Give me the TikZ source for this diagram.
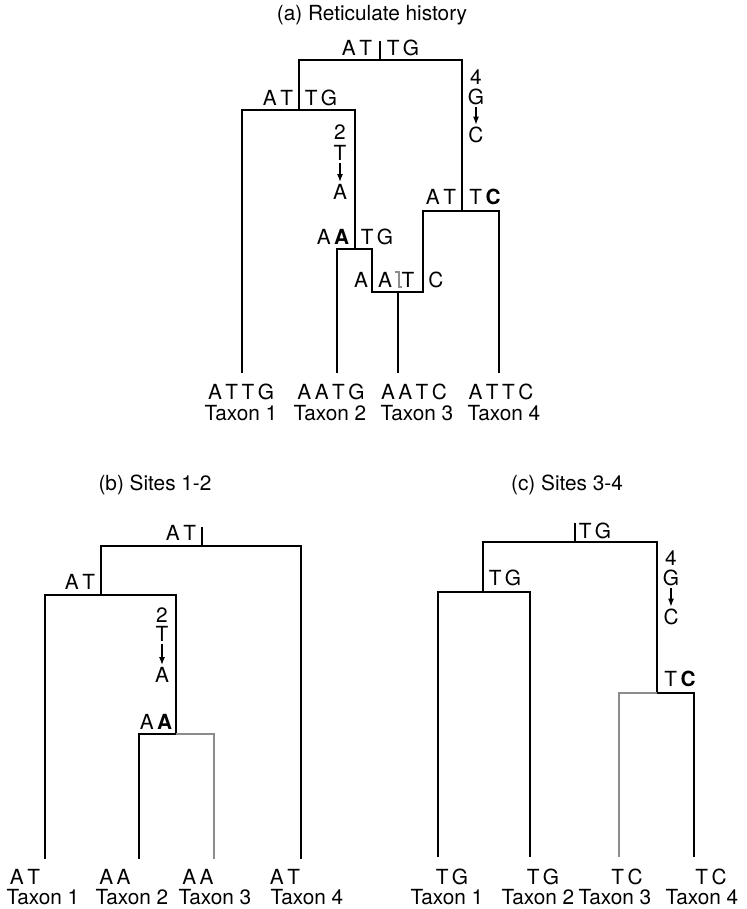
\documentclass[tikz,border=0pt]{standalone}
\usepackage{fontspec}
\setmainfont{TeX Gyre Heros}
\usetikzlibrary{arrows.meta}
\def\normaledge{1.1}
\definecolor{edgeblack}{rgb}{0,0,0}
\definecolor{edgegray}{rgb}{0.55,0.55,0.55}

\begin{document}
\begin{tikzpicture}[x = 0.5pt, y = -0.5pt, scale = 1,
    every node/.style={inner sep=1pt, font=\fontsize{10.4}{12.5}\selectfont},
    treeedge/.style={line width=\normaledge, color=edgeblack},
    grayedge/.style={line width=\normaledge, color=edgegray},
    mutarrow/.style={line width=0.6, -{Latex[length=4pt,width=3pt]}}]
            \useasboundingbox (0,0) rectangle (747,909);

            % (a) reticulate history
            \node (ta) at (372,15){(a) Reticulate history};

            \node (r') at (380,41){};
            \node (r) at (380,60){};
            \node (u) at (299,60){};
            \node (v) at (462,60){};
            \node (u') at (299,110){};
            \node (v') at (462,211){};

            \node (a1) at (242,110){};
            \node (a2) at (355,110){};
            \node (w) at (355,249){};
            \node (w1) at (337,249){};
            \node (w2) at (372,249){};
            \node (h1) at (372,292){};
            \node (h) at (398,292){};
            \node (h2) at (423,292){};
            \node (b1) at (423,211){};
            \node (b2) at (499,211){};

            \node (x1) at (242,373){};
            \node (x2) at (337,373){};
            \node (x3) at (398,373){};
            \node (x4) at (499,373){};

            \draw [treeedge] (r'.center) -- (r.center);
            \draw [treeedge] (u'.center) -- (u.center) -- (v.center) -- (v'.center);
            \draw [treeedge] (x1.center) -- (a1.center) -- (a2.center) -- (w.center);
            \draw [treeedge] (x2.center) -- (w1.center) -- (w2.center) -- (h1.center) -- (h2.center) -- (b1.center) -- (b2.center) -- (x4.center);
            \draw [treeedge] (h.center) -- (x3.center);

            \node (sr1) at (357,48){A\,T};
            \node (sr2) at (403,48){T\,G};
            \node (su1) at (278,98){A\,T};
            \node (su2) at (321,98){T\,G};
            \node (sw1) at (333,237){A\,\textbf{A}};
            \node (sw2) at (377,237){T\,G};
            \node (sb1) at (441,197){A\,T};
            \node (sb2) at (485,197){T\,\textbf{C}};
            \node (sh1) at (361,280){A};
            \node (sh2) at (385,280){A};
            \node (sh3) at (408,280){T};
            \node (sh4) at (436,280){C};
            \draw [line width=0.7, color=edgegray] (395,272) -- (399,272) -- (399,287) -- (402,287);

            \node (k2) at (340,132){2};
            \node (k2a) at (340,153){T};
            \node (k2b) at (340,192){A};
            \draw [mutarrow] (k2a) -- (k2b);
            \node (k4) at (476,77){4};
            \node (k4a) at (476,97){G};
            \node (k4b) at (476,135){C};
            \draw [mutarrow] (k4a) -- (k4b);

            \node (sx1) at (241,392){A\,T\,T\,G};
            \node (sx2) at (331,392){A\,A\,T\,G};
            \node (sx3) at (414,392){A\,A\,T\,C};
            \node (sx4) at (501,392){A\,T\,T\,C};
            \node (tx1) at (241,413){Taxon 1};
            \node (tx2) at (330,413){Taxon 2};
            \node (tx3) at (417,413){Taxon 3};
            \node (tx4) at (504,413){Taxon 4};

            % (b) sites 1-2
            \node (tb) at (155,485){(b) Sites 1-2};

            \node (q') at (202,527){};
            \node (q) at (202,546){};
            \node (p) at (101,546){};
            \node (p2) at (301,546){};
            \node (p') at (101,595){};
            \node (c1) at (45,595){};
            \node (c2) at (176,595){};
            \node (e) at (176,734){};
            \node (e1) at (139,734){};
            \node (e2) at (214,734){};

            \node (y1) at (45,859){};
            \node (y2) at (139,859){};
            \node (y3) at (214,859){};
            \node (y4) at (301,859){};

            \draw [treeedge] (q'.center) -- (q.center);
            \draw [treeedge] (p'.center) -- (p.center) -- (p2.center) -- (y4.center);
            \draw [treeedge] (y1.center) -- (c1.center) -- (c2.center) -- (e.center) -- (e1.center) -- (y2.center);
            \draw [grayedge] (e.center) -- (e2.center) -- (y3.center);

            \node (sq) at (181,533){A\,T};
            \node (sp) at (80,582){A\,T};
            \node (se) at (156,722){A\,\textbf{A}};

            \node (j2) at (162,615){2};
            \node (j2a) at (162,634){T};
            \node (j2b) at (162,675){A};
            \draw [mutarrow] (j2a) -- (j2b);

            \node (sy1) at (25,877){A\,T};
            \node (sy2) at (115,877){A\,A};
            \node (sy3) at (198,877){A\,A};
            \node (sy4) at (285,877){A\,T};
            \node (ty1) at (43,897){Taxon 1};
            \node (ty2) at (132,897){Taxon 2};
            \node (ty3) at (215,897){Taxon 3};
            \node (ty4) at (307,897){Taxon 4};

            % (c) sites 3-4
            \node (tc) at (567,485){(c) Sites 3-4};

            \node (n') at (575,523){};
            \node (n) at (575,542){};
            \node (m) at (483,542){};
            \node (m2) at (657,542){};
            \node (m') at (483,592){};
            \node (d1) at (438,592){};
            \node (d2) at (530,592){};
            \node (g) at (657,693){};
            \node (g1) at (619,693){};
            \node (g2) at (694,693){};

            \node (z1) at (438,857){};
            \node (z2) at (530,857){};
            \node (z3) at (619,857){};
            \node (z4) at (694,857){};

            \draw [treeedge] (n'.center) -- (n.center);
            \draw [treeedge] (m'.center) -- (m.center) -- (m2.center) -- (g.center) -- (g2.center) -- (z4.center);
            \draw [treeedge] (z1.center) -- (d1.center) -- (d2.center) -- (z2.center);
            \draw [grayedge] (g.center) -- (g1.center) -- (z3.center);

            \node (sn) at (595,531){T\,G};
            \node (sm) at (505,578){T\,G};
            \node (sg) at (680,679){T\,\textbf{C}};

            \node (i4) at (671,558){4};
            \node (i4a) at (671,578){G};
            \node (i4b) at (671,617){C};
            \draw [mutarrow] (i4a) -- (i4b);

            \node (sz1) at (452,877){T\,G};
            \node (sz2) at (543,877){T\,G};
            \node (sz3) at (627,877){T\,C};
            \node (sz4) at (711,877){T\,C};
            \node (tz1) at (447,897){Taxon 1};
            \node (tz2) at (538,897){Taxon 2};
            \node (tz3) at (615,897){Taxon 3};
            \node (tz4) at (702,897){Taxon 4};

        \end{tikzpicture}
\end{document}
